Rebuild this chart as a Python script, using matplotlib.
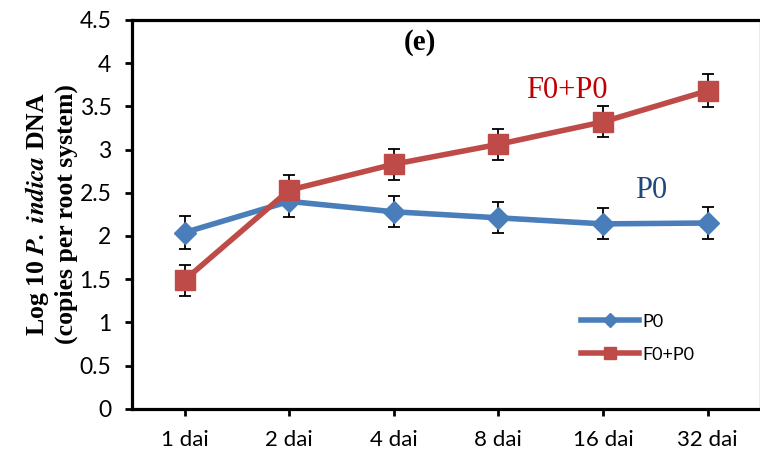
import matplotlib
matplotlib.use('Agg')
from matplotlib import pyplot as plt
from matplotlib.lines import Line2D

# sampling days and qPCR values
days = ['1 dai', '2 dai', '4 dai', '8 dai', '16 dai', '32 dai']
p0 = [2.04, 2.40, 2.28, 2.21, 2.14, 2.15]
p0_err = [0.19, 0.18, 0.18, 0.18, 0.18, 0.18]
f0p0 = [1.49, 2.53, 2.83, 3.06, 3.32, 3.68]
f0p0_err = [0.18, 0.18, 0.18, 0.18, 0.18, 0.19]
y_ticks = [0, 0.5, 1, 1.5, 2, 2.5, 3, 3.5, 4, 4.5]

blue = '#4A7EBB'
red = '#BE4B48'
tick_font = 'Lato'
serif = 'Liberation Serif'
plt.rcParams['mathtext.fontset'] = 'stix'

fig = plt.figure(figsize=(7.6, 4.61), dpi=100)
ax = fig.add_axes([0.174, 0.113, 0.826, 0.844])
x = list(range(len(days)))

# error bars sit behind the lines and markers
ax.errorbar(x, p0, yerr=p0_err, fmt='none', ecolor='black', elinewidth=1.3,
            capsize=4.5, capthick=1.3, zorder=2)
ax.errorbar(x, f0p0, yerr=f0p0_err, fmt='none', ecolor='black', elinewidth=1.3,
            capsize=4.5, capthick=1.3, zorder=2)

ax.plot(x, p0, color=blue, lw=4, marker='D', ms=11, zorder=3)
ax.plot(x, f0p0, color=red, lw=4, marker='s', ms=14, zorder=4)

ax.set_xlim(-0.5, 5.5)
ax.set_ylim(0, 4.5)
ax.set_xticks(x)
ax.set_xticklabels(days, fontfamily=tick_font, fontsize=16)
ax.set_yticks(y_ticks)
ax.set_yticklabels([f'{v:g}' for v in y_ticks], fontfamily=tick_font, fontsize=16.5)
ax.tick_params(axis='both', direction='out', length=5, width=2, colors='black')
ax.tick_params(axis='y', pad=10)
ax.tick_params(axis='x', pad=10)

for side in ['left', 'bottom', 'top']:
    ax.spines[side].set_linewidth(2.3)
    ax.spines[side].set_color('black')
ax.spines['right'].set_linewidth(1)
ax.spines['right'].set_color('#9a9a9a')

# axis label: bold serif, italic species name
ax.set_ylabel('Log 10 $\\mathbfit{P.}$ $\\mathbfit{indica}$ DNA\n(copies per root system)',
              fontfamily=serif, fontweight='bold', fontsize=18.5, labelpad=1,
              linespacing=1.2)

# in-plot labels
ax.text(2.25, 4.24, '(e)', fontfamily=serif, fontweight='bold', fontsize=21,
        ha='center', va='center')
ax.text(3.65, 3.68, 'F0+P0', fontfamily=serif, fontsize=22, color='#C00000',
        ha='center', va='center')
ax.text(4.46, 2.53, 'P0', fontfamily=serif, fontsize=22, color='#1F497D',
        ha='center', va='center')

handles = [Line2D([], [], color=blue, lw=4, marker='D', ms=7),
           Line2D([], [], color=red, lw=4, marker='s', ms=9)]
ax.legend(handles, ['P0', 'F0+P0'], loc='upper left', bbox_to_anchor=(0.715, 0.245),
          frameon=False, borderpad=0, borderaxespad=0, handlelength=3.2,
          handletextpad=0.2, labelspacing=0.95,
          prop={'family': tick_font, 'size': 13})

fig.savefig('out.png', dpi=100, facecolor='white')
